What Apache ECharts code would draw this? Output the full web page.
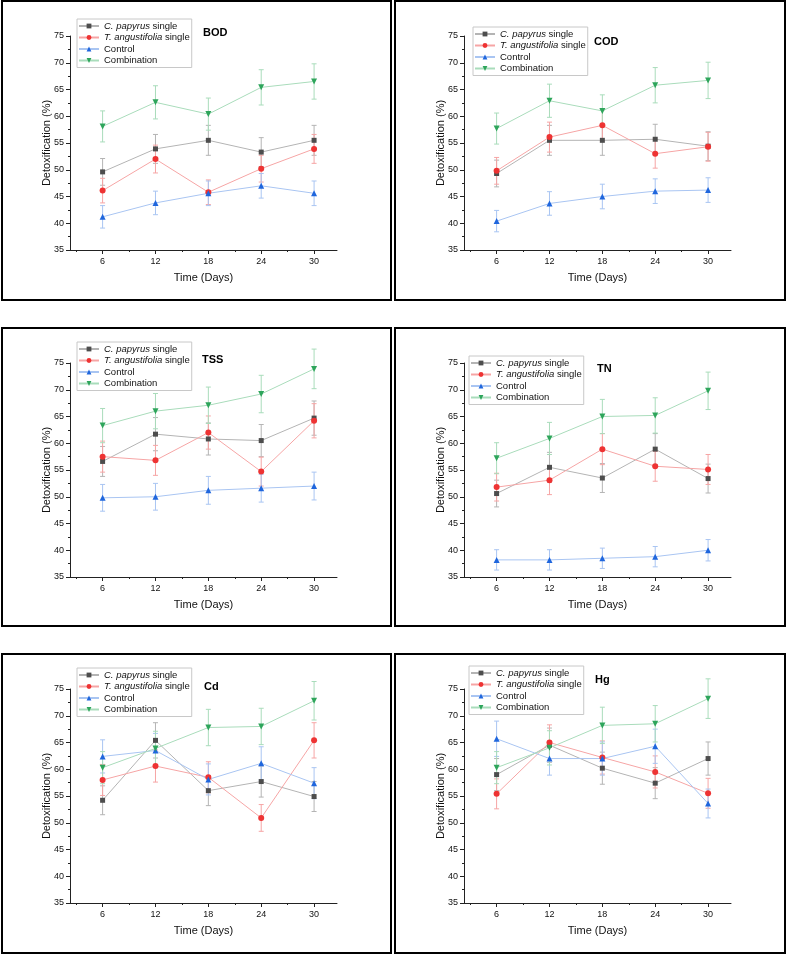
<!DOCTYPE html>
<html>
<head>
<meta charset="utf-8">
<script src="https://cdn.jsdelivr.net/npm/echarts@6/dist/echarts.min.js"></script>
<style>
  body { margin: 0; background: #fff; }
  .box { position: absolute; box-sizing: border-box; border: 2px solid #000; }
  .box > div { position: absolute; left: 0; top: 0; right: 0; bottom: 0; }
</style>
</head>
<body>
<script>
// sampling days (x axis)
const days = [6, 12, 18, 24, 30];
const seriesNames = ['C. papyrus single', 'T. angustifolia single', 'Control', 'Combination'];

// BOD
const bodPapyrus = [49.6, 53.9, 55.5, 53.3, 55.5];
const bodTypha = [46.1, 52.0, 45.8, 50.2, 53.9];
const bodControl = [41.2, 43.8, 45.6, 47.0, 45.6];
const bodComb = [58.1, 62.6, 60.4, 65.4, 66.5];
const bodPapyrusErr = [2.5, 2.7, 2.8, 2.7, 2.8];
const bodTyphaErr = [2.3, 2.6, 2.3, 2.5, 2.7];
const bodControlErr = [2.1, 2.2, 2.3, 2.3, 2.3];
const bodCombErr = [2.9, 3.1, 3.0, 3.3, 3.3];

// COD
const codPapyrus = [49.3, 55.5, 55.5, 55.7, 54.4];
const codTypha = [49.8, 56.1, 58.3, 53.0, 54.3];
const codControl = [40.4, 43.7, 45.0, 46.0, 46.2];
const codComb = [57.7, 62.9, 61.0, 65.8, 66.7];
const codPapyrusErr = [2.5, 2.8, 2.8, 2.8, 2.7];
const codTyphaErr = [2.5, 2.8, 2.9, 2.7, 2.7];
const codControlErr = [2.0, 2.2, 2.3, 2.3, 2.3];
const codCombErr = [2.9, 3.1, 3.0, 3.3, 3.4];

// TSS
const tssPapyrus = [56.6, 61.7, 60.8, 60.5, 64.7];
const tssTypha = [57.5, 56.8, 62.0, 54.7, 64.2];
const tssControl = [49.8, 50.0, 51.2, 51.6, 52.0];
const tssComb = [63.3, 66.0, 67.1, 69.2, 73.9];
const tssPapyrusErr = [2.8, 3.1, 3.0, 3.0, 3.2];
const tssTyphaErr = [2.9, 2.8, 3.1, 2.7, 3.2];
const tssControlErr = [2.5, 2.5, 2.6, 2.6, 2.6];
const tssCombErr = [3.2, 3.3, 3.4, 3.5, 3.7];

// TN
const tnPapyrus = [50.6, 55.5, 53.5, 58.9, 53.4];
const tnTypha = [51.8, 53.1, 58.9, 55.7, 55.1];
const tnControl = [38.2, 38.2, 38.5, 38.8, 40.0];
const tnComb = [57.2, 60.9, 65.0, 65.2, 69.8];
const tnPapyrusErr = [2.5, 2.8, 2.7, 2.9, 2.7];
const tnTyphaErr = [2.6, 2.7, 2.9, 2.8, 2.8];
const tnControlErr = [1.9, 1.9, 1.9, 1.9, 2.0];
const tnCombErr = [2.9, 3.0, 3.2, 3.3, 3.5];

// Cd
const cdPapyrus = [54.2, 65.4, 56.0, 57.7, 54.9];
const cdTypha = [58.0, 60.6, 58.5, 50.9, 65.4];
const cdControl = [62.4, 63.5, 58.1, 61.1, 57.4];
const cdComb = [60.3, 63.9, 67.8, 68.0, 72.8];
const cdPapyrusErr = [2.7, 3.3, 2.8, 2.9, 2.8];
const cdTyphaErr = [2.9, 3.0, 2.9, 2.5, 3.3];
const cdControlErr = [3.1, 3.2, 2.9, 3.1, 2.9];
const cdCombErr = [3.0, 3.2, 3.4, 3.4, 3.6];

// Hg
const hgPapyrus = [59.0, 64.5, 60.2, 57.4, 62.0];
const hgTypha = [55.4, 65.0, 62.2, 59.5, 55.5];
const hgControl = [65.7, 62.0, 62.0, 64.3, 53.6];
const hgComb = [60.3, 64.0, 68.2, 68.5, 73.2];
const hgPapyrusErr = [3.0, 3.2, 3.0, 2.9, 3.1];
const hgTyphaErr = [2.8, 3.3, 3.1, 3.0, 2.8];
const hgControlErr = [3.3, 3.1, 3.1, 3.2, 2.7];
const hgCombErr = [3.0, 3.2, 3.4, 3.4, 3.7];

const xMinorTicks = [3, 9, 15, 21, 27];

// marker / line / error bar colours, symbols
const styles = [
  { mark: '#4d4d4d', line: '#b4b4b4', err: '#b4b4b4', symbol: 'rect', size: 5, rot: 0 },
  { mark: '#ee3333', line: '#f6a5a5', err: '#f6a5a5', symbol: 'circle', size: 6, rot: 0 },
  { mark: '#1f66dd', line: '#a9c5f2', err: '#a9c5f2', symbol: 'triangle', size: 6, rot: 0 },
  { mark: '#2ea55b', line: '#a9dcbb', err: '#a9dcbb', symbol: 'triangle', size: 6, rot: 180 }
];

const panels = [
  { name: 'BOD', box: [1, 0, 391, 301], col: 0, legend: [74, 17], title: [200, 25],
    vals: [bodPapyrus, bodTypha, bodControl, bodComb], errs: [bodPapyrusErr, bodTyphaErr, bodControlErr, bodCombErr] },
  { name: 'COD', box: [394, 0, 392, 301], col: 1, legend: [77, 25], title: [198, 34],
    vals: [codPapyrus, codTypha, codControl, codComb], errs: [codPapyrusErr, codTyphaErr, codControlErr, codCombErr] },
  { name: 'TSS', box: [1, 327, 391, 300], col: 0, legend: [74, 13], title: [199, 25],
    vals: [tssPapyrus, tssTypha, tssControl, tssComb], errs: [tssPapyrusErr, tssTyphaErr, tssControlErr, tssCombErr] },
  { name: 'TN', box: [394, 327, 392, 300], col: 1, legend: [73, 27], title: [201, 34],
    vals: [tnPapyrus, tnTypha, tnControl, tnComb], errs: [tnPapyrusErr, tnTyphaErr, tnControlErr, tnCombErr] },
  { name: 'Cd', box: [1, 653, 391, 301], col: 0, legend: [74, 13], title: [201, 26],
    vals: [cdPapyrus, cdTypha, cdControl, cdComb], errs: [cdPapyrusErr, cdTyphaErr, cdControlErr, cdCombErr] },
  { name: 'Hg', box: [394, 653, 392, 301], col: 1, legend: [73, 11], title: [199, 19],
    vals: [hgPapyrus, hgTypha, hgControl, hgComb], errs: [hgPapyrusErr, hgTyphaErr, hgControlErr, hgCombErr] }
];

const font = 'Arial, "Liberation Sans", sans-serif';
const axisColor = '#222';

function errorBars(params, api) {
  const x = api.value(0);
  const lo = api.coord([x, api.value(1)]);
  const hi = api.coord([x, api.value(2)]);
  const cap = 2.5;
  const st = { stroke: api.visual('color'), lineWidth: 1 };
  return {
    type: 'group',
    children: [
      { type: 'line', shape: { x1: lo[0], y1: lo[1], x2: hi[0], y2: hi[1] }, style: st },
      { type: 'line', shape: { x1: lo[0] - cap, y1: lo[1], x2: lo[0] + cap, y2: lo[1] }, style: st },
      { type: 'line', shape: { x1: hi[0] - cap, y1: hi[1], x2: hi[0] + cap, y2: hi[1] }, style: st }
    ]
  };
}

function buildOption(p) {
  let series = [];
  p.vals.forEach((v, k) => {
    series.push({
      type: 'custom',
      renderItem: errorBars,
      itemStyle: { color: styles[k].err },
      data: days.map((d, i) => [d, v[i] - p.errs[k][i], v[i] + p.errs[k][i]]),
      z: 1,
      silent: true
    });
  });
  p.vals.forEach((v, k) => {
    let s = styles[k];
    series.push({
      name: seriesNames[k],
      type: 'line',
      data: days.map((d, i) => [d, v[i]]),
      symbol: s.symbol,
      symbolSize: s.size,
      symbolRotate: s.rot,
      showSymbol: true,
      lineStyle: { color: s.line, width: 1 },
      itemStyle: { color: s.mark },
      z: 3
    });
  });

  return {
    animation: false,
    textStyle: { fontFamily: font },
    title: {
      text: p.name, left: p.title[0], top: p.title[1], padding: 0,
      textStyle: { fontSize: 11, fontWeight: 'bold', color: '#000', fontFamily: font }
    },
    legend: {
      data: seriesNames,
      orient: 'vertical',
      left: p.legend[0], top: p.legend[1],
      padding: [2, 2, 2, 1],
      itemGap: 1.5,
      itemWidth: 20,
      itemHeight: 6,
      borderColor: '#c8c8c8',
      borderWidth: 1,
      borderRadius: 0,
      selectedMode: false,
      formatter: (name) => {
        let parts = name.split(' single');
        if (parts.length > 1) return '{i|' + parts[0] + '} single';
        return name;
      },
      textStyle: {
        fontSize: 9.5, color: '#111', lineHeight: 10, fontFamily: font,
        rich: { i: { fontStyle: 'italic', fontSize: 9.5, color: '#111', fontFamily: font } }
      }
    },
    grid: { left: p.col === 0 ? 67 : 68, top: 34, width: 267, height: 214, containLabel: false },
    xAxis: [{
      type: 'value', min: 2.3, max: 32.6,
      name: 'Time (Days)', nameLocation: 'middle', nameGap: 22, nameMoveOverlap: false,
      nameTextStyle: { fontSize: 11, color: '#111', fontFamily: font },
      axisLine: { show: true, lineStyle: { color: axisColor, width: 1 } },
      axisTick: { show: true, length: 4, customValues: days, lineStyle: { color: axisColor } },
      axisLabel: { show: true, customValues: days, margin: 7, fontSize: 9, color: '#111', fontFamily: font },
      splitLine: { show: false }
    }, {
      type: 'value', min: 2.3, max: 32.6, position: 'bottom',
      axisLine: { show: false },
      axisTick: { show: true, length: 2, customValues: xMinorTicks, lineStyle: { color: axisColor } },
      axisLabel: { show: false },
      splitLine: { show: false }
    }],
    yAxis: {
      type: 'value', min: 35, max: 75, interval: 5,
      name: 'Detoxification (%)', nameLocation: 'middle', nameGap: 18, nameMoveOverlap: false,
      nameTextStyle: { fontSize: 11, color: '#111', fontFamily: font },
      axisLine: { show: true, lineStyle: { color: axisColor, width: 1 } },
      axisTick: { show: true, length: 4, lineStyle: { color: axisColor } },
      minorTick: { show: true, splitNumber: 2, length: 2, lineStyle: { color: axisColor } },
      axisLabel: { margin: 6, fontSize: 9, color: '#111', fontFamily: font },
      splitLine: { show: false },
      minorSplitLine: { show: false }
    },
    series: series
  };
}

panels.forEach((p) => {
  let box = document.createElement('div');
  box.className = 'box';
  box.style.left = p.box[0] + 'px';
  box.style.top = p.box[1] + 'px';
  box.style.width = p.box[2] + 'px';
  box.style.height = p.box[3] + 'px';
  let inner = document.createElement('div');
  box.appendChild(inner);
  document.body.appendChild(box);
  let chart = echarts.init(inner);
  chart.setOption(buildOption(p));
});
</script>
</body>
</html>
